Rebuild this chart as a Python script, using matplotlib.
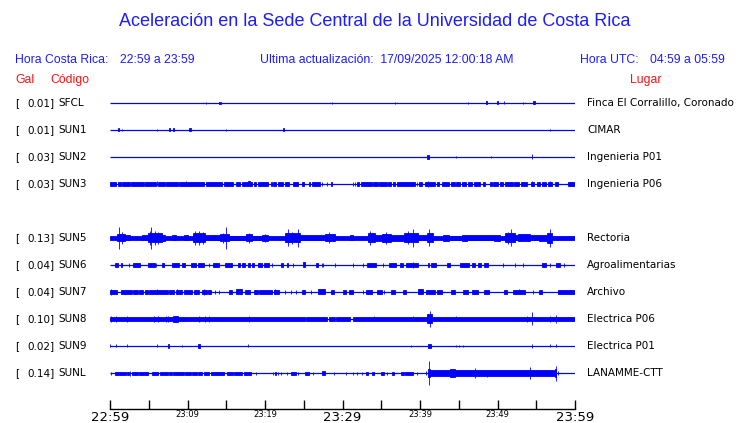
import matplotlib
matplotlib.use("Agg")
import matplotlib.pyplot as plt
from matplotlib.transforms import blended_transform_factory

# station info (row 4 is left empty, like the original page)
codes = ['SFCL', 'SUN1', 'SUN2', 'SUN3', 'SUN5', 'SUN6', 'SUN7', 'SUN8', 'SUN9', 'SUNL']
peaks = [0.01, 0.01, 0.03, 0.03, 0.13, 0.04, 0.04, 0.10, 0.02, 0.14]
places = ['Finca El Corralillo, Coronado', 'CIMAR', 'Ingenieria P01', 'Ingenieria P06',
          'Rectoria', 'Agroalimentarias', 'Archivo', 'Electrica P06', 'Electrica P01',
          'LANAMME-CTT']
rows = [0, 1, 2, 3, 5, 6, 7, 8, 9, 10]

# time ticks, minutes after 22:59
tick_minutes = [0, 5, 10, 15, 20, 25, 30, 35, 40, 45, 50, 55, 60]
tick_labels = ['22:59', '', '23:09', '', '23:19', '', '23:29', '', '23:39', '', '23:49', '', '23:59']
big_ticks = ['22:59', '23:29', '23:59']

# trace envelopes: (start minute, end minute, half amplitude in display units)
sfcl = [(12.4, 12.4, 1.0), (14.1, 14.3, 1.3), (28.7, 28.7, 1.0), (36.8, 36.8, 1.0),
        (46.2, 46.2, 1.0), (48.5, 48.7, 1.5), (49.9, 50.1, 1.5), (50.9, 50.9, 1.5),
        (53.3, 53.3, 1.3), (54.6, 54.9, 1.5)]
sun1 = [(1.05, 1.1, 1.5), (1.6, 1.6, 1.3), (6.0, 6.0, 1.3), (7.6, 7.7, 1.5),
        (8.1, 8.3, 1.5), (10.2, 10.4, 1.5), (15.0, 15.0, 1.3), (22.3, 22.45, 1.5),
        (56.8, 56.8, 1.3)]
sun2 = [(40.9, 41.1, 2.0), (44.6, 44.6, 1.3), (49.1, 49.1, 0.7), (54.5, 54.5, 2.5)]
sun3 = [(0.0, 0.77, 1.6), (1.0, 1.42, 1.6), (1.59, 2.58, 1.6), (2.71, 4.39, 1.6),
        (4.52, 5.89, 1.6), (6.02, 6.02, 2.5), (6.15, 7.1, 1.6), (7.23, 8.73, 1.6),
        (8.9, 12.17, 1.6), (9.85, 9.85, 2.5), (12.39, 14.5, 1.6), (14.71, 15.87, 1.6),
        (16.2, 16.73, 1.6), (16.99, 17.76, 1.6), (17.8, 18.05, 2.5), (18.1, 18.3, 1.6),
        (18.58, 18.8, 1.6), (19.05, 20.43, 1.6), (20.73, 20.86, 1.6), (21.07, 21.38, 1.6),
        (21.72, 22.37, 1.6), (22.58, 23.1, 1.6), (23.65, 24.2, 1.6), (24.8, 25.0, 1.6),
        (25.68, 25.85, 1.6), (26.1, 27.05, 1.6), (27.4, 27.4, 1.6), (28.05, 28.05, 1.6),
        (28.5, 28.7, 1.6), (31.3, 31.3, 1.6), (31.6, 31.6, 1.6), (31.92, 32.17, 1.6),
        (32.35, 33.77, 1.6), (33.9, 34.63, 1.6), (34.76, 35.7, 1.6), (35.83, 36.22, 1.6),
        (36.56, 36.78, 1.6), (37.0, 39.36, 1.6), (39.57, 39.57, 1.6), (39.92, 40.26, 1.6),
        (40.65, 41.94, 1.6), (41.0, 41.0, 3.0), (42.15, 42.41, 1.6), (42.8, 43.79, 1.6),
        (43.96, 44.52, 1.6), (44.65, 45.16, 1.6), (45.38, 45.94, 1.6), (46.15, 46.67, 1.6),
        (47.0, 47.75, 1.6), (48.09, 48.43, 1.6), (49.04, 49.25, 1.6), (49.46, 50.11, 1.6),
        (50.33, 50.76, 1.6), (50.97, 51.96, 1.6), (52.13, 52.82, 1.6), (52.99, 53.77, 1.6),
        (54.28, 54.71, 1.6), (54.5, 54.5, 2.5), (55.06, 55.49, 1.6), (55.7, 56.26, 1.6),
        (56.56, 57.08, 1.6), (56.8, 56.8, 2.5), (57.42, 57.85, 1.6), (59.14, 60.0, 1.6)]
sun5 = [(0.0, 60.0, 2.0), (0.9, 1.9, 3.5), (1.1, 1.1, 11.0), (1.5, 1.5, 6.0),
        (1.9, 2.6, 2.5), (4.1, 4.95, 2.5), (4.95, 6.67, 4.5), (5.33, 5.33, 11.0),
        (5.1, 5.1, 7.0), (5.8, 5.8, 7.0), (6.2, 6.2, 6.0), (6.67, 7.1, 3.0),
        (8.0, 8.5, 2.5), (9.5, 10.0, 2.5), (10.75, 12.26, 4.5), (11.0, 11.0, 7.0),
        (11.5, 11.5, 7.0), (12.0, 12.0, 6.0), (12.26, 14.2, 2.5), (14.2, 15.35, 3.5),
        (15.0, 15.0, 11.0), (14.6, 14.6, 5.0), (15.35, 17.6, 2.3), (17.6, 18.3, 3.5),
        (17.9, 17.9, 5.0), (18.3, 19.6, 2.3), (19.6, 20.4, 3.0), (20.0, 20.0, 4.0),
        (22.6, 24.5, 4.5), (22.95, 22.95, 8.5), (23.5, 23.5, 6.0), (24.2, 24.2, 9.0),
        (24.5, 27.7, 2.5), (27.7, 29.0, 3.5), (28.2, 28.2, 5.5), (31.0, 31.4, 2.5),
        (33.3, 34.2, 4.5), (33.6, 33.6, 7.0), (34.2, 35.1, 3.0), (35.1, 36.3, 4.0),
        (35.6, 35.6, 6.0), (36.3, 37.9, 3.0), (37.9, 39.8, 4.5), (39.1, 39.1, 9.0),
        (38.5, 38.5, 6.5), (39.8, 40.9, 2.5), (40.9, 41.7, 4.5), (41.1, 41.1, 8.5),
        (43.0, 43.7, 3.0), (43.7, 45.4, 2.3), (45.4, 46.0, 3.0), (46.0, 49.5, 2.5),
        (49.5, 50.3, 3.0), (51.0, 52.3, 4.5), (51.7, 51.7, 8.5), (51.3, 51.3, 6.0),
        (52.3, 52.7, 2.5), (52.7, 54.2, 3.5), (54.2, 55.3, 2.5), (55.3, 56.4, 3.0),
        (56.4, 57.0, 5.0), (56.8, 56.8, 9.0)]
sun6 = [(0.65, 1.08, 1.7), (1.42, 1.59, 1.7), (2.5, 2.5, 1.7), (3.01, 3.87, 1.7),
        (4.86, 5.8, 1.7), (5.94, 5.94, 1.7), (6.75, 7.0, 1.7), (8.04, 8.9, 1.7),
        (9.25, 9.68, 1.7), (10.45, 11.05, 1.7), (11.31, 12.17, 1.7), (12.82, 12.82, 1.7),
        (13.3, 14.06, 1.7), (14.84, 15.7, 1.7), (16.56, 16.82, 1.7), (17.0, 17.42, 1.7),
        (17.76, 18.1, 1.7), (18.28, 18.54, 1.7), (19.05, 19.57, 1.7), (19.9, 20.5, 1.7),
        (20.95, 20.95, 1.7), (22.06, 22.32, 1.7), (22.84, 23.0, 1.7), (23.6, 23.6, 1.7),
        (24.9, 25.2, 2.5), (26.6, 26.9, 1.7), (27.3, 27.3, 1.7), (27.5, 27.5, 1.7),
        (29.0, 29.0, 1.7), (31.4, 31.4, 1.7), (32.6, 32.6, 2.0), (33.1, 34.3, 1.7),
        (35.2, 35.2, 2.0), (36.0, 36.9, 1.7), (37.4, 37.8, 1.7), (38.2, 39.7, 1.7),
        (39.1, 39.1, 3.0), (41.0, 41.2, 1.7), (41.4, 42.0, 2.0), (43.5, 43.9, 1.7),
        (45.2, 46.3, 1.7), (46.7, 47.1, 1.7), (47.5, 47.9, 1.7), (48.2, 48.8, 1.7),
        (50.7, 50.7, 1.7), (52.2, 52.2, 1.7), (53.3, 53.3, 1.7), (55.7, 56.3, 1.7),
        (56.8, 56.8, 1.7), (57.6, 58.0, 1.7), (58.6, 58.6, 1.7)]
sun7 = [(0.0, 0.86, 1.8), (0.15, 0.15, 3.0), (1.42, 2.8, 1.8), (2.92, 3.57, 1.8),
        (3.8, 4.2, 1.8), (4.5, 4.86, 1.8), (5.08, 7.53, 1.8), (6.02, 6.02, 2.5),
        (7.66, 8.3, 1.8), (8.47, 9.33, 1.8), (8.6, 8.6, 2.5), (9.55, 10.6, 1.8),
        (10.8, 11.5, 1.8), (11.83, 12.47, 1.8), (12.1, 12.1, 3.0), (12.6, 13.0, 1.8),
        (13.55, 13.55, 1.8), (14.0, 14.0, 1.8), (15.3, 15.7, 1.8), (16.3, 17.07, 2.5),
        (17.42, 18.06, 1.8), (18.6, 19.1, 1.8), (19.2, 20.86, 1.8), (21.3, 21.3, 2.5),
        (21.1, 21.8, 1.8), (22.6, 22.6, 1.8), (23.4, 23.4, 1.8), (23.95, 23.95, 1.8),
        (24.8, 25.1, 1.8), (25.9, 25.9, 1.8), (26.9, 27.7, 2.5), (28.5, 28.95, 1.8),
        (30.1, 30.5, 2.0), (30.8, 31.4, 1.8), (32.7, 32.7, 1.8), (33.0, 33.8, 1.8),
        (34.4, 35.1, 1.8), (35.4, 35.4, 1.8), (36.3, 36.8, 1.8), (37.8, 38.2, 1.8),
        (39.7, 40.4, 2.5), (40.8, 41.9, 1.8), (42.2, 42.8, 1.8), (43.96, 44.5, 1.8),
        (45.6, 46.2, 1.8), (46.7, 47.5, 1.8), (48.2, 48.9, 1.8), (50.8, 51.2, 1.8),
        (51.96, 53.6, 1.8), (52.8, 52.8, 2.5), (54.6, 54.6, 2.0), (55.4, 55.8, 1.8),
        (57.85, 60.0, 1.8)]
sun8 = [(0.0, 25.1, 2.0), (25.3, 28.0, 2.0), (28.26, 29.0, 2.0), (29.2, 31.0, 2.0),
        (31.4, 60.0, 2.0), (0.13, 0.13, 2.7), (0.73, 0.73, 2.7), (2.24, 2.24, 2.7),
        (5.68, 5.68, 2.7), (6.24, 6.24, 2.7), (7.23, 7.23, 2.7), (7.44, 7.44, 2.7),
        (8.17, 8.73, 2.7), (11.48, 11.48, 2.7), (12.26, 12.26, 2.7), (12.82, 12.82, 2.7),
        (17.94, 17.94, 3.0), (34.1, 34.1, 2.5), (39.1, 39.1, 2.5), (40.9, 41.5, 4.5),
        (41.3, 41.3, 8.0), (44.6, 44.6, 2.5), (53.8, 53.8, 3.0), (54.5, 54.5, 6.5),
        (56.8, 56.8, 3.0), (57.6, 57.6, 4.0)]
sun9 = [(0.0, 0.0, 1.5), (0.73, 0.73, 1.5), (2.24, 2.24, 1.5), (6.1, 6.1, 1.5),
        (7.44, 7.66, 2.0), (9.25, 9.25, 1.0), (11.4, 11.6, 2.0), (17.85, 17.85, 1.5),
        (38.8, 38.8, 1.0), (41.0, 41.4, 2.0), (44.6, 44.6, 1.3), (45.0, 45.0, 1.3),
        (45.6, 45.6, 1.3), (54.5, 54.5, 2.0), (56.8, 56.8, 1.5), (57.6, 57.6, 1.5)]
sunl = [(0.13, 0.13, 1.5), (0.65, 2.0, 1.5), (2.15, 2.45, 1.5), (2.6, 2.6, 2.5),
        (2.8, 3.65, 1.5), (3.8, 4.86, 1.5), (5.38, 6.24, 1.5), (6.45, 7.44, 1.5),
        (7.6, 7.96, 1.5), (8.13, 9.6, 1.5), (9.68, 10.45, 1.5), (10.6, 11.18, 1.5),
        (11.4, 11.83, 1.5), (12.1, 12.8, 1.5), (13.0, 14.7, 1.5), (15.05, 15.9, 1.5),
        (16.0, 17.0, 1.5), (17.3, 18.15, 1.5), (18.9, 18.9, 1.5), (21.0, 21.0, 1.5),
        (21.3, 21.4, 1.5), (21.7, 21.7, 1.5), (22.06, 22.06, 1.5), (22.8, 22.8, 1.5),
        (23.3, 24.0, 1.5), (24.2, 24.2, 1.5), (25.2, 25.7, 1.5), (26.2, 26.2, 1.5),
        (27.3, 27.7, 2.0), (28.95, 28.95, 1.5), (30.45, 30.45, 1.5), (31.4, 31.4, 1.5),
        (31.9, 31.9, 1.5), (32.5, 32.5, 1.5), (33.0, 33.3, 1.5), (33.8, 34.1, 1.5),
        (35.0, 35.3, 1.5), (35.8, 35.8, 1.5), (36.4, 36.7, 1.5), (37.6, 37.9, 1.5),
        (38.1, 39.1, 1.5), (39.6, 39.6, 1.5), (40.8, 40.8, 2.0), (41.0, 41.3, 4.0),
        (41.2, 41.2, 12.0), (41.3, 57.6, 2.7), (43.9, 44.5, 4.0), (47.1, 47.1, 5.0),
        (48.6, 48.6, 3.5), (54.2, 54.2, 6.0), (57.4, 57.6, 4.0), (57.5, 57.5, 7.5),
        (57.85, 57.85, 2.0)]
traces = [sfcl, sun1, sun2, sun3, sun5, sun6, sun7, sun8, sun9, sunl]

ROW_SPACING = 27.0  # display units between two traces
BLUE = '#0000ff'
TXT_BLUE = '#1c1cff'
RED = '#ff1010'

fig = plt.figure(figsize=(7.4, 4.23), dpi=100)
W, H = 740.0, 423.0


def fpos(x, y):
    # pixel position on the page -> figure fraction
    return x / W, 1 - y / H


ax = fig.add_axes([110 / W, 1 - 409 / H, 465 / W, (409 - 90) / H])
ax.set_xlim(0, 60)
ax.set_ylim(-11.333, 0.48)

for row, env in zip(rows, traces):
    y0 = -row
    ax.hlines(y0, 0, 60, color=BLUE, linewidth=0.9)
    for t0, t1, a in env:
        h = a / ROW_SPACING
        ax.bar(t0, 2 * h, width=t1 - t0, bottom=y0 - h, align='edge',
               color=BLUE, edgecolor=BLUE, linewidth=0.6)

# time axis
for s in ['top', 'left', 'right']:
    ax.spines[s].set_visible(False)
ax.spines['bottom'].set_linewidth(1.0)
ax.set_yticks([])
ax.set_xticks(tick_minutes, tick_labels)
ax.tick_params(axis='x', direction='in', length=6.5, width=1.0, pad=1.5)
for lab in ax.get_xticklabels():
    if lab.get_text() in big_ticks:
        lab.set_fontsize(9.5)
    else:
        lab.set_fontsize(6)
        lab.set_y(0.004)

# station labels left and right
tr = blended_transform_factory(fig.transFigure, ax.transData)
for row, code, pk, place in zip(rows, codes, peaks, places):
    y0 = -row
    ax.text(15 / W, y0, '[', transform=tr, fontsize=7.5, va='center', ha='left',
            family='DejaVu Sans')
    ax.text(55 / W, y0, '%.2f]' % pk, transform=tr, fontsize=7.5, va='center', ha='right',
            family='DejaVu Sans')
    ax.text(58 / W, y0, code, transform=tr, fontsize=7.5, va='center', ha='left',
            family='DejaVu Sans')
    ax.text(587 / W, y0, place, transform=tr, fontsize=7.5, va='center', ha='left',
            family='DejaVu Sans')

# header texts
hf = 'Liberation Sans'
fs = 8.8
fig.text(*fpos(375, 22), 'Aceleración en la Sede Central de la Universidad de Costa Rica',
         ha='center', va='center', fontsize=13, color=TXT_BLUE, family=hf)
fig.text(*fpos(15, 60), 'Hora Costa Rica:', ha='left', va='center', fontsize=fs,
         color=TXT_BLUE, family=hf)
fig.text(*fpos(120, 60), '22:59 a 23:59', ha='left', va='center', fontsize=fs,
         color=TXT_BLUE, family=hf)
fig.text(*fpos(260, 60), 'Ultima actualización:  17/09/2025 12:00:18 AM', ha='left',
         va='center', fontsize=fs, color=TXT_BLUE, family=hf)
fig.text(*fpos(580, 60), 'Hora UTC:', ha='left', va='center', fontsize=fs,
         color=TXT_BLUE, family=hf)
fig.text(*fpos(650, 60), '04:59 a 05:59', ha='left', va='center', fontsize=fs,
         color=TXT_BLUE, family=hf)
fig.text(*fpos(15, 80), 'Gal', ha='left', va='center', fontsize=fs, color=RED, family=hf)
fig.text(*fpos(50, 80), 'Código', ha='left', va='center', fontsize=fs, color=RED, family=hf)
fig.text(*fpos(630, 80), 'Lugar', ha='left', va='center', fontsize=fs, color=RED, family=hf)

fig.savefig('out.png', dpi=100)
